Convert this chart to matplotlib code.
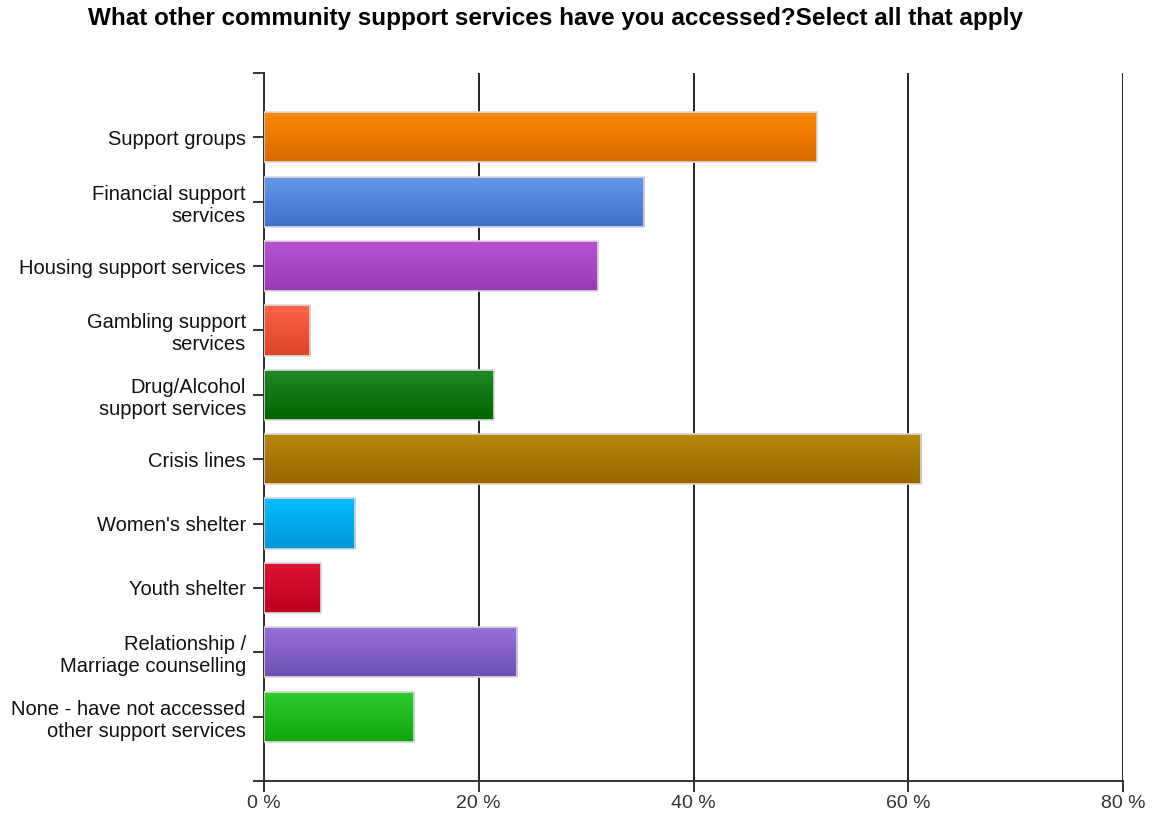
import matplotlib
matplotlib.use('Agg')
import matplotlib.pyplot as plt
import matplotlib.colors as mcolors
import numpy as np

# survey answers, percent of respondents
labels = ['Support groups', 'Financial support\nservices', 'Housing support services',
          'Gambling support\nservices', 'Drug/Alcohol\nsupport services', 'Crisis lines',
          "Women's shelter", 'Youth shelter', 'Relationship /\nMarriage counselling',
          'None - have not accessed\nother support services']
values = [51.5, 35.4, 31.1, 4.3, 21.4, 61.2, 8.5, 5.3, 23.6, 14.0]
top_colors = ['#fa8a00', '#6697e9', '#b653d2', '#ff6448', '#21892a', '#b8880c',
              '#00bfff', '#dc1438', '#9472da', '#30cc30']
bottom_colors = ['#da6a00', '#4171c9', '#9b39b5', '#dc4426', '#006400', '#9a6600',
                 '#0096d6', '#bb001e', '#704fb3', '#0ea50e']
xticks = [0, 20, 40, 60, 80]

plt.rcParams['font.family'] = ['Liberation Sans', 'DejaVu Sans']

fig = plt.figure(figsize=(11.54, 8.14), dpi=100)
ax = fig.add_axes([264 / 1154, 33 / 814, 859 / 1154, 708 / 814])

ypos = np.arange(len(values))
bars = ax.barh(ypos, values, height=0.78, color='none', edgecolor='#dadada',
               linewidth=1.2, zorder=3)

# vertical gradient inside each bar
for b, c1, c2 in zip(bars, top_colors, bottom_colors):
    a = np.array(mcolors.to_rgb(c1))
    z = np.array(mcolors.to_rgb(c2))
    t = np.linspace(0, 1, 64)[:, None]
    grad = (a * (1 - t) + z * t)[:, None, :]
    x0, y0 = b.get_x(), b.get_y()
    w, h = b.get_width(), b.get_height()
    im = ax.imshow(grad, extent=(x0, x0 + w, y0 + h, y0), aspect='auto',
                   interpolation='bilinear', zorder=2)
    im.set_clip_path(b)

ax.set_xlim(0, 80)
ax.set_ylim(len(values), -1)
ax.set_xticks(xticks)
ax.set_xticklabels([f'{v} %' for v in xticks])
ax.set_yticks(ypos)
ax.set_yticklabels(labels, ha='right', multialignment='right')
ax.set_yticks([-1, len(values)], minor=True)

ax.grid(axis='x', color='#222222', linewidth=1.4, zorder=1)
ax.set_axisbelow(True)
for s in ['top', 'right']:
    ax.spines[s].set_visible(False)
for s in ['left', 'bottom']:
    ax.spines[s].set_color('#333333')
    ax.spines[s].set_linewidth(1.4)

ax.tick_params(axis='y', which='both', length=8, width=1.4, color='#333333',
               labelsize=14.5, pad=5, labelcolor='#111111')
ax.tick_params(axis='x', length=8, width=1.4, color='#333333', labelsize=14,
               labelcolor='#333333', pad=2)

fig.text(556 / 1154, 1 - 19 / 814,
         'What other community support services have you accessed?Select all that apply',
         ha='center', va='center', fontsize=17.5, fontweight='bold')

fig.savefig('out.png', dpi=100)
